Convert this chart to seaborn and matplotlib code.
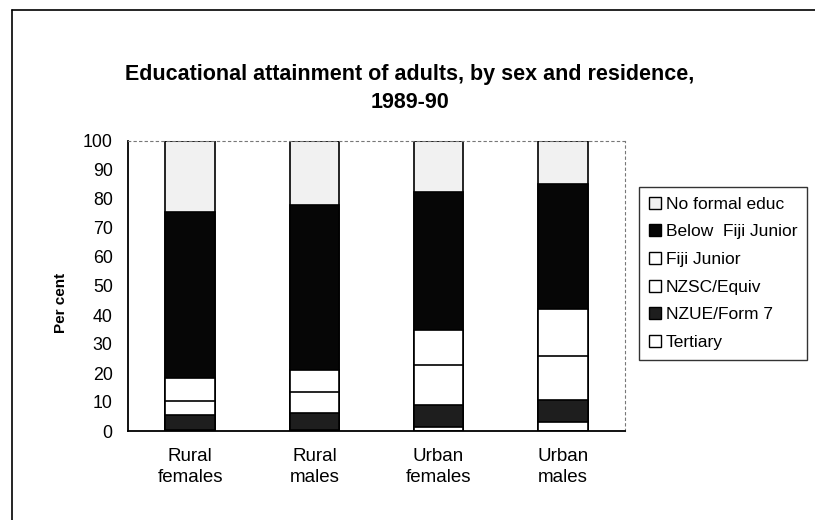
import matplotlib
matplotlib.use("Agg")
import matplotlib.pyplot as plt
from matplotlib.patches import Patch
from matplotlib.lines import Line2D
import seaborn as sns
import pandas as pd

# datos (porcentaje de cada nivel, de abajo hacia arriba)
categorias = ["Rural\nfemales", "Rural\nmales", "Urban\nfemales", "Urban\nmales"]
tertiary = [0.5, 0.5, 1.5, 3.0]
nzue_form7 = [5.0, 5.8, 7.5, 7.7]
nzsc_equiv = [4.9, 7.0, 13.6, 15.3]
fiji_junior = [7.8, 7.7, 12.4, 16.0]
below_fiji_junior = [57.3, 57.0, 47.5, 43.0]
no_formal = [24.5, 22.0, 17.5, 15.0]

niveles = ["Tertiary", "NZUE/Form 7", "NZSC/Equiv", "Fiji Junior",
           "Below  Fiji Junior", "No formal educ"]
valores = [tertiary, nzue_form7, nzsc_equiv, fiji_junior, below_fiji_junior, no_formal]
colores = ["#ffffff", "#1e1e1e", "#ffffff", "#ffffff", "#060606", "#f1f1f1"]


def main():
    sns.set_style("white")
    plt.rcParams["font.family"] = ["Liberation Sans", "DejaVu Sans"]
    plt.rcParams["text.color"] = "black"
    plt.rcParams["axes.labelcolor"] = "black"
    plt.rcParams["xtick.color"] = "black"
    plt.rcParams["ytick.color"] = "black"

    df = pd.DataFrame({n: v for n, v in zip(niveles, valores)}, index=categorias)
    acum = df.cumsum(axis=1)

    fig = plt.figure(figsize=(8.15, 5.2), dpi=100)
    ax = fig.add_axes([128 / 815, 89 / 520, 497 / 815, 290 / 520])

    # barras apiladas: se dibuja el acumulado de arriba hacia abajo
    for nivel, color in reversed(list(zip(niveles, colores))):
        datos = pd.DataFrame({"cat": categorias, "val": acum[nivel].values})
        sns.barplot(data=datos, x="cat", y="val", order=categorias, color=color,
                    saturation=1, width=0.4, edgecolor="black", linewidth=1.2,
                    ax=ax, errorbar=None)

    ax.set_ylim(0, 100)
    ax.set_xlim(-0.5, 3.5)
    ax.set_yticks(range(0, 101, 10))
    ax.tick_params(axis="y", direction="inout", length=8, width=1, labelsize=12.8, pad=7)
    ax.tick_params(axis="x", which="major", length=0, labelsize=13.5, pad=12)
    ax.set_xticks([-0.5, 0.5, 1.5, 2.5, 3.5], minor=True)
    ax.tick_params(axis="x", which="minor", direction="inout", length=8, width=1)
    for t in ax.get_xticklabels():
        t.set_linespacing(1.35)
    ax.set_xlabel("")
    ax.set_ylabel("Per cent", fontsize=11, fontweight="bold")
    ax.yaxis.set_label_coords(-0.12, 0.44)

    for lado in ["left", "bottom"]:
        ax.spines[lado].set_color("black")
        ax.spines[lado].set_linewidth(1.3)
    for lado in ["top", "right"]:
        ax.spines[lado].set_color("#777777")
        ax.spines[lado].set_linewidth(0.8)
        ax.spines[lado].set_linestyle((0, (2, 3)))

    # leyenda en el orden del original
    handles = [Patch(facecolor=c, edgecolor="black", linewidth=1.0, label=n)
               for n, c in reversed(list(zip(niveles, colores)))]
    leg = fig.legend(handles=handles, loc="upper left",
                     bbox_to_anchor=(639 / 815, 1 - 187 / 520),
                     frameon=True, fancybox=False, fontsize=12.5,
                     handlelength=0.7, handleheight=0.7, handletextpad=0.3,
                     labelspacing=0.72, borderpad=0.55, borderaxespad=0)
    leg.get_frame().set_edgecolor("black")
    leg.get_frame().set_linewidth(1.0)

    fig.text(410 / 815, 1 - 75 / 520,
             "Educational attainment of adults, by sex and residence,",
             ha="center", va="center", fontsize=15.5, fontweight="bold")
    fig.text(410 / 815, 1 - 102 / 520, "1989-90",
             ha="center", va="center", fontsize=15.5, fontweight="bold")

    # marco exterior del grafico
    fig.add_artist(Line2D([12 / 815, 12 / 815], [0, 1 - 10 / 520], color="black", lw=1.2))
    fig.add_artist(Line2D([12 / 815, 1], [1 - 10 / 520, 1 - 10 / 520], color="black", lw=1.2))

    fig.savefig("out.png", dpi=100)
    plt.close(fig)


if __name__ == "__main__":
    main()
